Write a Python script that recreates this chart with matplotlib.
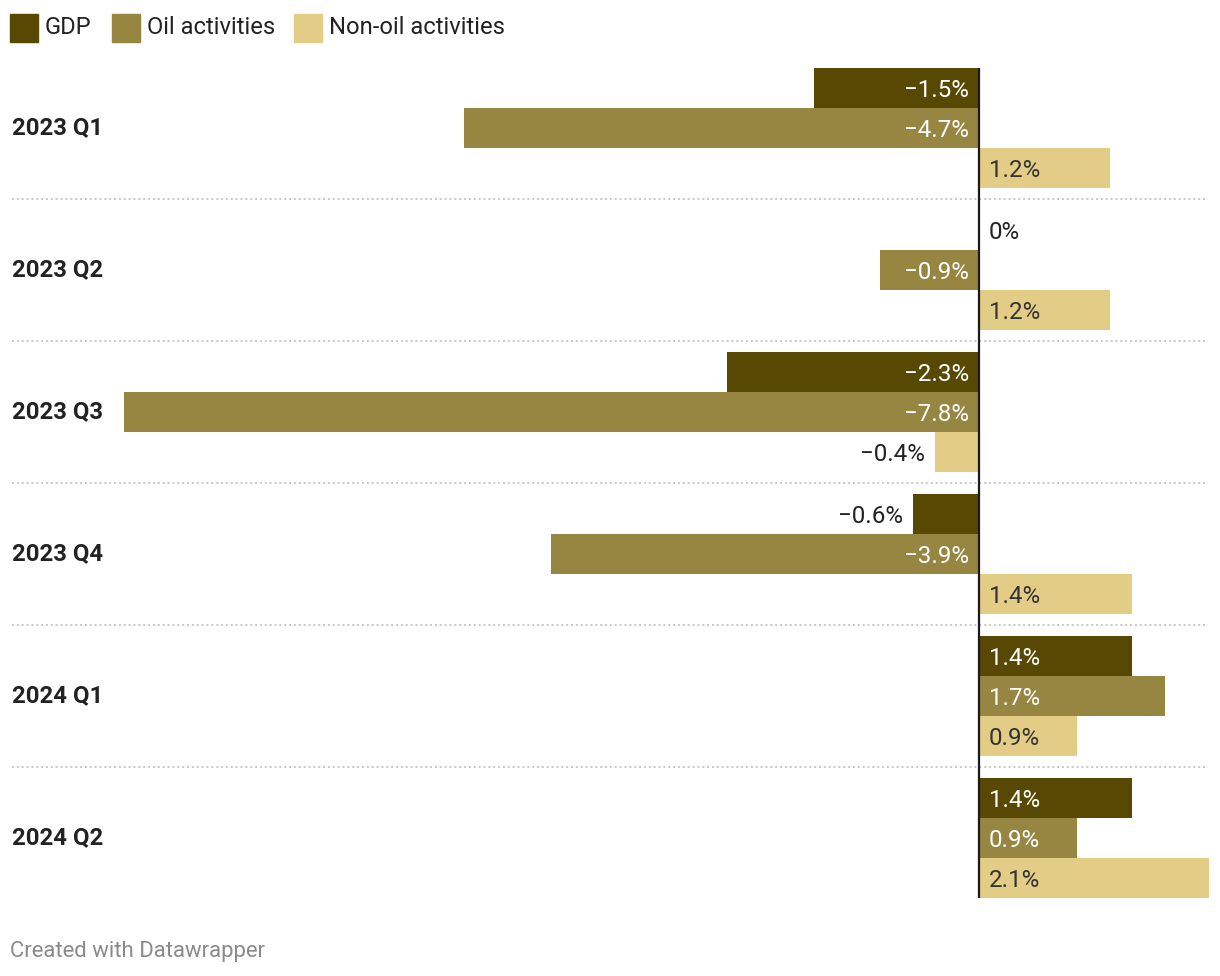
import matplotlib
matplotlib.use("Agg")
import matplotlib.pyplot as plt
from matplotlib.transforms import blended_transform_factory, offset_copy

plt.rcParams['font.family'] = ['Roboto', 'DejaVu Sans']

categories = ["2023 Q1", "2023 Q2", "2023 Q3", "2023 Q4", "2024 Q1", "2024 Q2"]
series_names = ["GDP", "Oil activities", "Non-oil activities"]
gdp = [-1.5, 0.0, -2.3, -0.6, 1.4, 1.4]
oil = [-4.7, -0.9, -7.8, -3.9, 1.7, 0.9]
non_oil = [1.2, 1.2, -0.4, 1.4, 0.9, 2.1]
colors = ["#574903", "#978542", "#e3cd86"]
label_inside_colors = ["white", "white", "#333333"]

W, H = 1220, 976
fig = plt.figure(figsize=(W / 100, H / 100), dpi=100)
ax = fig.add_axes([124 / W, 1 - 898 / H, (1209 - 124) / W, (898 - 68) / H])
ax.set_xlim(-7.8, 2.1)
bar_h = 40 / 142
ax.set_ylim(len(categories) - 1 + 1.5 * bar_h, -1.5 * bar_h)
ax.axis("off")

fig.canvas.draw()
renderer = fig.canvas.get_renderer()
px_per_unit = ax.transData.transform((1, 0))[0] - ax.transData.transform((0, 0))[0]
pad = 10 / px_per_unit
label_trans = offset_copy(ax.transData, fig=fig, x=0, y=-1.5, units="points")

def fmt(v):
    if v == 0:
        return "0%"
    s = f"{abs(v):.1f}%"
    return ("\u2212" + s) if v < 0 else s

all_series = [gdp, oil, non_oil]
fs = 17.4
for si, vals in enumerate(all_series):
    for gi, v in enumerate(vals):
        y = gi + (si - 1) * bar_h
        ax.barh(y, v, height=bar_h, color=colors[si], linewidth=0)
        txt = fmt(v)
        t = ax.text(0, y, txt, fontsize=fs)
        tw = t.get_window_extent(renderer).width / px_per_unit
        t.remove()
        inside = abs(v) > tw + 2 * pad
        if v >= 0:
            x, ha = (pad, "left") if inside else (v + pad, "left")
        else:
            x, ha = (-pad, "right") if inside else (v - pad, "right")
        col = label_inside_colors[si] if inside else "#222222"
        ax.text(x, y, txt, fontsize=fs, ha=ha, va="center", color=col,
                transform=label_trans)

# zero line
ax.axvline(0, color="#1a1a1a", lw=1.6, zorder=5)

# separators and category labels
trans = blended_transform_factory(fig.transFigure, ax.transData)
for gi, cat in enumerate(categories):
    ax.text(12 / W, gi, cat, transform=trans, fontsize=17.2, fontweight="bold",
            color="#222222", ha="left", va="center")
    if gi < len(categories) - 1:
        ax.plot([12 / W, 1208 / W], [gi + 0.5, gi + 0.5], transform=trans,
                color="#c8c8c8", lw=1.4, linestyle=(0, (1, 1.5)), clip_on=False, zorder=0)

# legend
lx = [10, 112, 294]
for i, name in enumerate(series_names):
    fig.patches.append(plt.Rectangle((lx[i] / W, 1 - 42 / H), 28 / W, 28 / H,
                                     transform=fig.transFigure, color=colors[i], figure=fig))
    fig.text((lx[i] + 35) / W, 1 - 27 / H, name, fontsize=17.1, color="#222222",
             ha="left", va="center")

fig.text(10 / W, 1 - 951 / H, "Created with Datawrapper", fontsize=15.9,
         color="#8a8a8a", ha="left", va="center")

fig.savefig("out.png", dpi=100, facecolor="white")
